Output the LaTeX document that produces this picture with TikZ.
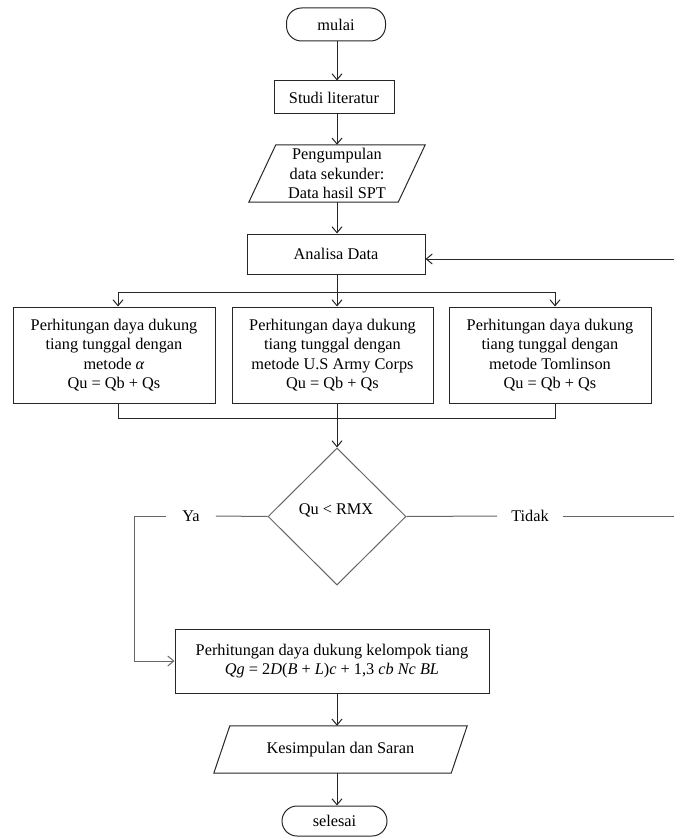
\documentclass[tikz,border=0pt]{standalone}
\usepackage{fontspec}
\setmainfont{Liberation Serif}
\usetikzlibrary{arrows.meta,shapes.geometric,calc}
\begin{document}
\begin{tikzpicture}[x=1pt,y=-1pt,
  every node/.style={font=\fontsize{16.3}{19.5}\selectfont, inner sep=0pt},
  box/.style={draw=black!85, line width=1pt, align=center},
  term/.style={box, rounded corners=15pt},
  arr/.style={-{Straight Barb[length=6pt,width=10pt]}, line width=1pt, draw=black!85},
  ln/.style={line width=1pt, draw=black!85},
  gln/.style={line width=1pt, draw=black!60}
]
\useasboundingbox (0,0) rectangle (674,837);
\coordinate (ax) at (337,0);

\node[term, minimum width=99, minimum height=33] (mulai) at (336,24.5) {mulai};
\node[box, minimum width=120, minimum height=33] (studi) at (334,97.5) {Studi literatur};
\node[minimum width=149, minimum height=57, align=center] (data) at (337,173.5) {Pengumpulan\\data sekunder:\\Data hasil SPT};
\draw[ln] ($(data.north west)+(13.5,0)$) -- ($(data.north east)+(13.5,0)$) -- ($(data.south east)+(-13.5,0)$) -- ($(data.south west)+(-13.5,0)$) -- cycle;
\node[box, minimum width=178, minimum height=40] (anal) at (336,254) {Analisa Data};

\node[box, minimum width=202, minimum height=96] (b1) at (114,355) {Perhitungan daya dukung\\tiang tunggal dengan\\metode \textit{α}\\Qu = Qb + Qs};
\node[box, minimum width=201, minimum height=96] (b2) at (332.5,355) {Perhitungan daya dukung\\tiang tunggal dengan\\metode U.S Army Corps\\Qu = Qb + Qs};
\node[box, minimum width=202, minimum height=96] (b3) at (550,355) {Perhitungan daya dukung\\tiang tunggal dengan\\metode Tomlinson\\Qu = Qb + Qs};

\node[diamond, draw=black!60, line width=1pt, minimum width=138, minimum height=137] (dec) at (337,516.5) {};
\node (dect) at (336,510) {Qu < RMX};
\node[inner xsep=16pt] (ya) at (191,516) {Ya};
\node[inner xsep=14pt] (tidak) at (530,516) {Tidak};

\node[box, minimum width=314, minimum height=64] (kel) at (332,661) {Perhitungan daya dukung kelompok tiang\\\textit{Qg} = 2\textit{D}(\textit{B} + \textit{L})\textit{c} + 1,3 \textit{cb Nc BL}};
\node[minimum width=237, minimum height=47] (kes) at (340.5,749.5) {Kesimpulan dan Saran};
\draw[ln] ($(kes.north west)+(8,0)$) -- ($(kes.north east)+(8,0)$) -- ($(kes.south east)+(-8,0)$) -- ($(kes.south west)+(-8,0)$) -- cycle;
\node[term, minimum width=105, minimum height=30] (sel) at (334.5,821) {selesai};

\coordinate (rin) at (674,259);
\coordinate (sp) at (337,292);
\coordinate (mg) at (337,418);
\coordinate (yc) at (134,516);
\coordinate (tend) at (674,516);

\draw[arr] (ax |- mulai.south) -- (ax |- studi.north);
\draw[arr] (ax |- studi.south) -- (ax |- data.north);
\draw[arr] (ax |- data.south) -- (ax |- anal.north);
\draw[arr] (rin) -- (rin -| anal.east);
\draw[ln] (ax |- anal.south) -- (sp);
\draw[arr] (sp) -- (sp |- b2.north);
\draw[arr] (sp) -| ([xshift=4pt]b1.north);
\draw[arr] (sp) -| ([xshift=5pt]b3.north);
\draw[ln] ([xshift=4pt]b1.south) |- (mg);
\draw[ln] ([xshift=5pt]b3.south) |- (mg);
\draw[ln] (mg |- b2.south) -- (mg);
\draw[arr] (mg) -- (mg |- dec.north);
\draw[gln] (dec.west) -- (ya.east);
\draw[arr, draw=black!60] (ya.west) -- (yc) |- (kel.west);
\draw[gln] (dec.east) -- (tidak.west);
\draw[gln] (tidak.east) -- (tend);
\draw[arr] (ax |- kel.south) -- (ax |- kes.north);
\draw[arr] (ax |- kes.south) -- (ax |- sel.north);
\end{tikzpicture}
\end{document}
